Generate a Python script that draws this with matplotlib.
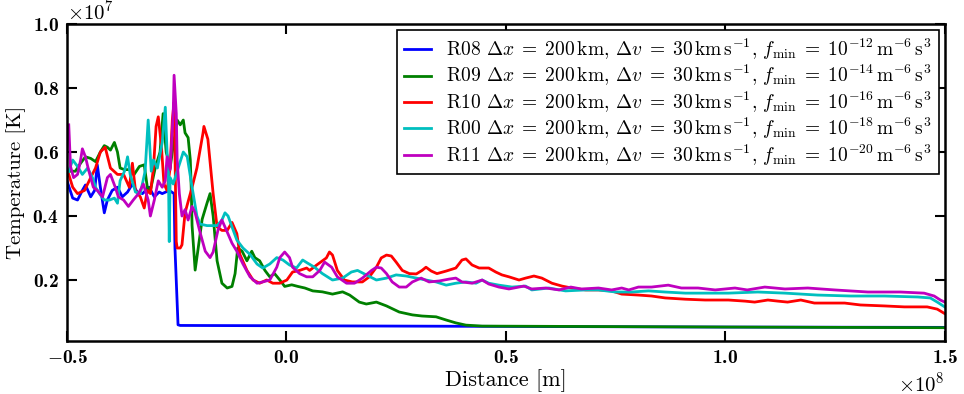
import matplotlib
matplotlib.use('Agg')
from matplotlib import pyplot as plt
from matplotlib.ticker import ScalarFormatter, MultipleLocator
import numpy as np

# distance in units of 1e8 m, temperature in units of 1e7 K
x_r08 = [-0.5, -0.487, -0.476, -0.465, -0.458, -0.446, -0.437, -0.431, -0.424, -0.415,
         -0.408, -0.397, -0.385, -0.374, -0.362, -0.351, -0.340, -0.328, -0.313, -0.301,
         -0.290, -0.283, -0.267, -0.256, -0.254, -0.247, -0.242, 0.5, 1.0, 1.5]
t_r08 = [0.51, 0.456, 0.45, 0.48, 0.497, 0.46, 0.48, 0.56, 0.49, 0.41,
         0.45, 0.48, 0.49, 0.46, 0.475, 0.50, 0.475, 0.47, 0.49, 0.46,
         0.475, 0.47, 0.48, 0.47, 0.30, 0.06, 0.058, 0.055, 0.053, 0.052]

x_r09 = [-0.496, -0.481, -0.469, -0.458, -0.446, -0.435, -0.424, -0.415, -0.408, -0.401,
         -0.392, -0.385, -0.379, -0.369, -0.358, -0.347, -0.335, -0.324, -0.317, -0.310,
         -0.299, -0.288, -0.281, -0.274, -0.265, -0.258, -0.249, -0.242, -0.235, -0.231,
         -0.224, -0.219, -0.217, -0.215, -0.208, -0.201, -0.192, -0.181, -0.174, -0.167,
         -0.158, -0.147, -0.135, -0.124, -0.117, -0.111, -0.101, -0.090, -0.079, -0.072,
         -0.061, -0.049, -0.038, -0.027, -0.015, -0.004, 0.012, 0.026, 0.042, 0.060,
         0.082, 0.105, 0.128, 0.144, 0.166, 0.182, 0.205, 0.228, 0.257, 0.287,
         0.309, 0.341, 0.364, 0.386, 0.409, 0.446, 1.0, 1.5]
t_r09 = [0.54, 0.54, 0.565, 0.585, 0.58, 0.57, 0.60, 0.62, 0.615, 0.606,
         0.63, 0.60, 0.55, 0.545, 0.545, 0.53, 0.555, 0.56, 0.49, 0.48,
         0.55, 0.60, 0.72, 0.60, 0.55, 0.62, 0.70, 0.685, 0.70, 0.66,
         0.645, 0.575, 0.49, 0.37, 0.231, 0.30, 0.39, 0.44, 0.47, 0.40,
         0.26, 0.19, 0.175, 0.18, 0.22, 0.30, 0.29, 0.26, 0.29, 0.27,
         0.26, 0.23, 0.21, 0.22, 0.20, 0.18, 0.185, 0.18, 0.175, 0.166,
         0.163, 0.156, 0.163, 0.153, 0.131, 0.125, 0.131, 0.119, 0.10, 0.091,
         0.0875, 0.085, 0.075, 0.066, 0.059, 0.056, 0.053, 0.051]

x_r10 = [-0.496, -0.487, -0.476, -0.460, -0.446, -0.435, -0.424, -0.413, -0.401, -0.385,
         -0.371, -0.358, -0.351, -0.344, -0.333, -0.324, -0.317, -0.310, -0.303, -0.297,
         -0.292, -0.285, -0.279, -0.272, -0.265, -0.260, -0.256, -0.254, -0.251, -0.249,
         -0.242, -0.238, -0.231, -0.215, -0.204, -0.190, -0.188, -0.179, -0.167, -0.158,
         -0.147, -0.135, -0.124, -0.113, -0.106, -0.090, -0.076, -0.061, -0.045, -0.031,
         -0.015, 0.001, 0.014, 0.030, 0.046, 0.053, 0.069, 0.091, 0.098, 0.105,
         0.116, 0.132, 0.150, 0.173, 0.189, 0.205, 0.216, 0.228, 0.239, 0.250,
         0.264, 0.280, 0.296, 0.309, 0.318, 0.330, 0.343, 0.364, 0.386, 0.400,
         0.409, 0.423, 0.439, 0.461, 0.477, 0.491, 0.507, 0.530, 0.545, 0.564,
         0.582, 0.605, 0.628, 0.650, 0.682, 0.711, 0.741, 0.764, 0.802, 0.832,
         0.863, 0.909, 0.954, 1.007, 1.045, 1.067, 1.097, 1.120, 1.142, 1.172,
         1.203, 1.272, 1.308, 1.363, 1.408, 1.460, 1.483, 1.5]
t_r10 = [0.53, 0.49, 0.47, 0.48, 0.52, 0.55, 0.60, 0.615, 0.55, 0.53,
         0.53, 0.49, 0.565, 0.48, 0.46, 0.425, 0.48, 0.47, 0.55, 0.68,
         0.71, 0.62, 0.50, 0.48, 0.55, 0.70, 0.756, 0.60, 0.32, 0.30,
         0.30, 0.31, 0.41, 0.49, 0.55, 0.66, 0.68, 0.64, 0.47, 0.366,
         0.355, 0.355, 0.38, 0.345, 0.28, 0.23, 0.20, 0.19, 0.20, 0.19,
         0.19, 0.20, 0.225, 0.23, 0.2375, 0.23, 0.247, 0.269, 0.2875, 0.278,
         0.23, 0.20, 0.194, 0.194, 0.21, 0.24, 0.269, 0.278, 0.275, 0.256,
         0.23, 0.22, 0.219, 0.23, 0.24, 0.228, 0.22, 0.228, 0.2375, 0.2625,
         0.266, 0.247, 0.2375, 0.2375, 0.225, 0.216, 0.21, 0.20, 0.206, 0.2125,
         0.206, 0.19, 0.181, 0.175, 0.169, 0.169, 0.166, 0.156, 0.153, 0.15,
         0.144, 0.14, 0.1375, 0.1375, 0.134, 0.131, 0.1375, 0.134, 0.131, 0.1375,
         0.128, 0.128, 0.122, 0.119, 0.116, 0.116, 0.109, 0.095]

x_r00 = [-0.496, -0.487, -0.476, -0.465, -0.453, -0.442, -0.435, -0.424, -0.415, -0.403,
         -0.392, -0.385, -0.379, -0.369, -0.362, -0.356, -0.344, -0.333, -0.322, -0.315,
         -0.308, -0.303, -0.294, -0.283, -0.276, -0.272, -0.269, -0.267, -0.265, -0.258,
         -0.249, -0.235, -0.226, -0.215, -0.204, -0.197, -0.181, -0.158, -0.147, -0.140,
         -0.133, -0.124, -0.113, -0.099, -0.083, -0.067, -0.054, -0.038, -0.022, -0.008,
         0.007, 0.023, 0.037, 0.048, 0.064, 0.082, 0.105, 0.128, 0.148, 0.162,
         0.182, 0.205, 0.228, 0.250, 0.273, 0.296, 0.318, 0.341, 0.364, 0.386,
         0.409, 0.432, 0.446, 0.461, 0.484, 0.514, 0.545, 0.559, 0.598, 0.636,
         0.682, 0.711, 0.750, 0.786, 0.825, 0.863, 0.909, 0.954, 1.007, 1.074,
         1.136, 1.210, 1.286, 1.363, 1.438, 1.467, 1.483, 1.5]
t_r00 = [0.54, 0.575, 0.555, 0.53, 0.55, 0.52, 0.49, 0.466, 0.45, 0.45,
         0.456, 0.44, 0.51, 0.54, 0.585, 0.53, 0.475, 0.47, 0.54, 0.70,
         0.54, 0.575, 0.55, 0.63, 0.74, 0.60, 0.55, 0.32, 0.52, 0.50,
         0.54, 0.60, 0.585, 0.49, 0.40, 0.375, 0.37, 0.37, 0.3875, 0.41,
         0.40, 0.366, 0.325, 0.30, 0.28, 0.25, 0.2375, 0.25, 0.27, 0.2625,
         0.247, 0.2375, 0.2625, 0.253, 0.24, 0.22, 0.20, 0.206, 0.225, 0.23,
         0.216, 0.20, 0.206, 0.216, 0.2125, 0.206, 0.20, 0.194, 0.184, 0.19,
         0.194, 0.19, 0.20, 0.19, 0.184, 0.178, 0.181, 0.169, 0.175, 0.166,
         0.169, 0.169, 0.1625, 0.1625, 0.166, 0.1625, 0.159, 0.159, 0.159, 0.1625,
         0.159, 0.153, 0.15, 0.15, 0.147, 0.144, 0.131, 0.116]

x_r11 = [-0.496, -0.492, -0.485, -0.476, -0.469, -0.465, -0.458, -0.451, -0.440, -0.431,
         -0.419, -0.408, -0.401, -0.390, -0.383, -0.371, -0.360, -0.349, -0.337, -0.326,
         -0.315, -0.310, -0.301, -0.292, -0.283, -0.276, -0.272, -0.265, -0.258, -0.256,
         -0.251, -0.249, -0.244, -0.238, -0.231, -0.224, -0.215, -0.208, -0.197, -0.185,
         -0.174, -0.167, -0.156, -0.147, -0.135, -0.124, -0.113, -0.099, -0.083, -0.067,
         -0.054, -0.038, -0.022, -0.015, -0.004, 0.007, 0.014, 0.030, 0.046, 0.060,
         0.076, 0.087, 0.103, 0.116, 0.137, 0.155, 0.173, 0.194, 0.205, 0.216,
         0.228, 0.241, 0.257, 0.273, 0.287, 0.307, 0.325, 0.348, 0.371, 0.386,
         0.400, 0.423, 0.446, 0.461, 0.484, 0.507, 0.541, 0.559, 0.591, 0.621,
         0.648, 0.672, 0.711, 0.741, 0.764, 0.780, 0.802, 0.832, 0.870, 0.900,
         0.938, 0.977, 1.022, 1.050, 1.090, 1.136, 1.188, 1.249, 1.325, 1.399,
         1.453, 1.476, 1.490, 1.5]
t_r11 = [0.685, 0.555, 0.52, 0.53, 0.575, 0.61, 0.585, 0.545, 0.49, 0.48,
         0.46, 0.52, 0.53, 0.49, 0.46, 0.45, 0.43, 0.45, 0.47, 0.50,
         0.45, 0.40, 0.45, 0.51, 0.49, 0.51, 0.585, 0.545, 0.72, 0.84,
         0.72, 0.575, 0.47, 0.40, 0.42, 0.3875, 0.43, 0.41, 0.35, 0.29,
         0.27, 0.2875, 0.356, 0.3875, 0.35, 0.315, 0.29, 0.25, 0.21, 0.19,
         0.194, 0.20, 0.24, 0.27, 0.2875, 0.27, 0.24, 0.22, 0.21, 0.21,
         0.23, 0.256, 0.24, 0.21, 0.19, 0.19, 0.206, 0.23, 0.24, 0.2375,
         0.22, 0.194, 0.178, 0.178, 0.194, 0.206, 0.194, 0.197, 0.203, 0.206,
         0.194, 0.19, 0.20, 0.1875, 0.178, 0.172, 0.181, 0.172, 0.175, 0.169,
         0.178, 0.172, 0.175, 0.169, 0.175, 0.169, 0.178, 0.178, 0.184, 0.175,
         0.175, 0.169, 0.175, 0.169, 0.178, 0.172, 0.175, 0.169, 0.1625, 0.1625,
         0.159, 0.15, 0.1375, 0.131]

runs = ['R08', 'R09', 'R10', 'R00', 'R11']
fmin_exp = [-12, -14, -16, -18, -20]
colors = ['b', 'g', 'r', 'c', 'm']
xs = [x_r08, x_r09, x_r10, x_r00, x_r11]
ts = [t_r08, t_r09, t_r10, t_r00, t_r11]


class CMFormatter(ScalarFormatter):
    # keeps the x10^n offset, but draws the minus sign from the math font
    def __call__(self, x, pos=None):
        v = x / 10 ** self.orderOfMagnitude
        s = r'\mathdefault{%.1f}' % abs(v)
        return ('$-' + s + '$') if v < -1e-9 else ('$' + s + '$')


plt.rcParams['font.family'] = 'cmr10'
plt.rcParams['mathtext.fontset'] = 'cm'
plt.rcParams['axes.formatter.use_mathtext'] = True

fig = plt.figure(figsize=(9.64, 3.94), dpi=100)
ax = fig.add_axes([0.0695, 0.135, 0.9105, 0.804])

for run, e, c, x, t in zip(runs, fmin_exp, colors, xs, ts):
    label = (run + r' $\Delta x\;=\;200\,\mathrm{km}$, $\Delta v\;=\;30\,\mathrm{km\,s^{-1}}$, '
             r'$f_{\min}\;=\;10^{%d}\,\mathrm{m^{-6}\,s^{3}}$' % e)
    ax.plot(np.array(x) * 1e8, np.array(t) * 1e7, c=c, lw=2, label=label)

ax.set_xlim(-0.5e8, 1.5e8)
ax.set_ylim(0.01e7, 1.0e7)
ax.xaxis.set_major_locator(MultipleLocator(0.5e8))
ax.yaxis.set_major_locator(MultipleLocator(0.2e7))
ax.xaxis.set_major_formatter(CMFormatter(useMathText=True))
ax.yaxis.set_major_formatter(CMFormatter(useMathText=True))

ax.set_xlabel('Distance [m]', fontsize=16)
ax.set_ylabel('Temperature [K]', fontsize=15)
ax.yaxis.set_label_coords(-0.047, 0.5)
ax.xaxis.set_label_coords(0.5, -0.09)

ax.tick_params(axis='both', which='major', direction='in', top=True, right=True,
               length=7, width=1.5, labelsize=14, labelfontfamily='cmb10', pad=6)
ax.xaxis.get_offset_text().set_fontsize(15)
ax.yaxis.get_offset_text().set_fontsize(15)
for s in ax.spines.values():
    s.set_linewidth(1.8)

leg = ax.legend(loc='upper right', fontsize=14, fancybox=False, framealpha=1,
                borderaxespad=0.3, labelspacing=0.05, handlelength=1.4,
                handletextpad=0.8, borderpad=0.35)
leg.get_frame().set_edgecolor('black')
leg.get_frame().set_linewidth(1.2)

fig.savefig('out.png', dpi=100)
